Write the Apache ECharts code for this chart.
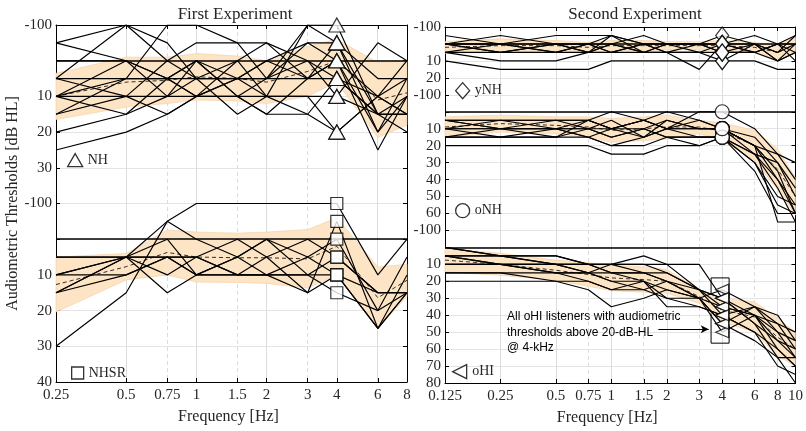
<!DOCTYPE html>
<html>
<head>
<meta charset="utf-8">
<script src="https://cdn.jsdelivr.net/npm/echarts@6.0.0/dist/echarts.min.js"></script>
<style>
  html, body { margin: 0; padding: 0; background: #fff; }
  #chart { width: 806px; height: 431px; }
</style>
</head>
<body>
<div id="chart"></div>
<script>
// frequencies [kHz] of the two experiments
const freqA = [0.25, 0.5, 0.75, 1, 1.5, 2, 3, 4, 6, 8];
const freqB = [0.125, 0.25, 0.5, 0.75, 1, 1.5, 2, 3, 4, 6, 8, 10];

// individual audiograms (dB HL), first experiment
const nhLines = [
  [-5, 0, 5, 10, 5, 0, 5, 0, 10, 5],
  [5, -10, -5, 5, 0, 10, -10, -10, 15, 15],
  [10, 5, -10, -10, -5, -5, 5, 0, 20, 10],
  [15, 10, 0, -5, -5, 5, -10, -5, 15, 20],
  [20, 15, 5, 0, 10, 5, 0, 10, -5, 0],
  [25, 20, 15, 10, 10, 15, 15, 20, 10, 15],
  [10, 10, 10, 10, 10, 10, 10, 10, 15, 15],
  [5, 5, 5, 5, 5, 5, 5, 5, 15, 10],
  [0, 0, 5, 0, 10, 15, 5, -5, 20, 5],
  [10, 15, 10, 0, 5, 5, -5, 0, 25, 10],
  [15, 5, 5, 10, 0, -5, 0, 5, 15, 15],
  [10, 0, 10, 5, 15, 10, 10, 20, 10, 15],
  [5, 10, 15, 10, 5, 10, 15, 5, 10, 0],
  [-5, -10, 0, 5, 5, 0, -5, -5, 5, 5]
];
const nhsrLines = [
  [30, 15, -5, -10, -10, -10, -10, -10, 10, 0],
  [15, 5, -5, 0, 5, 10, 15, -5, 25, 15],
  [10, 5, 15, 10, 5, 0, 5, 0, 20, 5],
  [15, 10, 5, 5, 10, 10, 5, 10, 25, 10],
  [10, 5, 5, 10, 5, 0, 10, 15, 20, 15],
  [5, 5, 10, 5, 0, 5, 15, 10, 15, 15],
  [15, 5, 0, 10, 10, 5, 0, 5, 15, 15],
  [5, 5, 5, 5, 10, 10, 10, 10, 25, 15],
  [10, 10, 5, 10, 10, 10, 10, 5, 15, 15]
];

// individual audiograms (dB HL), second experiment
const ynhLines = [
  [0, -5, 0, 0, -5, 0, 0, 0, -5, 0, 5, -5],
  [10, 15, 15, 15, 10, 10, 10, 10, 10, 10, 15, 15],
  [5, 10, 10, 5, 5, 5, 5, 15, 0, 5, 10, 0],
  [0, 0, 0, 0, 5, 0, 5, 5, 10, 0, 10, 5],
  [5, 0, 5, 5, 0, 5, 0, 0, 5, 5, 0, -5],
  [0, 5, 0, 5, 0, 5, 0, 5, 0, 5, 0, 0],
  [-5, 0, 5, 0, 0, -5, 0, 0, 0, 0, 5, 0],
  [0, 0, -5, -5, -5, 0, 0, 0, 0, -5, 0, 5],
  [5, 5, 5, 0, 5, 0, 5, 5, 5, 0, 10, 5],
  [0, 5, 0, 5, -5, 5, 5, 0, 5, 5, 0, 10]
];
const onhLines = [
  [5, 5, 5, 5, 10, 5, 10, 5, 10, 20, 35, 60],
  [10, 10, 10, 15, 20, 15, 10, 15, 15, 25, 45, 65],
  [15, 15, 15, 15, 20, 20, 15, 20, 15, 30, 50, 55],
  [20, 20, 20, 20, 25, 25, 20, 20, 15, 35, 60, 60],
  [10, 5, 5, 10, 10, 5, 0, 5, 10, 15, 30, 45],
  [5, 10, 10, 5, 0, 5, 10, 0, 0, 10, 25, 40],
  [15, 10, 10, 10, 5, 15, 5, 10, 10, 20, 40, 55],
  [10, 15, 10, 10, 15, 10, 15, 15, 15, 25, 30, 50],
  [5, 5, 10, 15, 10, 10, 5, 10, 10, 20, 25, 30],
  [10, 10, 5, 5, 10, 15, 10, 10, 10, 20, 65, 65],
  [15, 15, 15, 10, 15, 10, 15, 15, 15, 30, 55, 60],
  [5, 10, 15, 5, 10, 5, 10, 10, 10, 25, 40, 60]
];
const ohiLines = [
  [0, 5, 10, 10, 10, 10, 10, 10, 30, 45, 55, 60],
  [5, 5, 10, 15, 10, 15, 20, 30, 25, 35, 45, 50],
  [10, 10, 15, 20, 25, 25, 30, 35, 40, 35, 40, 55],
  [20, 20, 20, 25, 35, 30, 25, 30, 45, 35, 50, 65],
  [15, 15, 15, 15, 20, 20, 25, 30, 35, 40, 60, 70],
  [5, 10, 10, 10, 15, 15, 15, 25, 30, 45, 65, 80],
  [10, 10, 10, 15, 15, 20, 30, 30, 50, 40, 45, 60],
  [5, 5, 5, 10, 10, 10, 15, 25, 40, 50, 70, 75],
  [10, 10, 15, 15, 20, 25, 20, 30, 45, 55, 65, 65],
  [0, 5, 5, 10, 10, 5, 10, 25, 35, 40, 50, 55],
  [15, 15, 20, 20, 25, 20, 35, 35, 40, 50, 60, 70],
  [5, 10, 10, 10, 15, 15, 20, 25, 30, 40, 55, 65]
];

// group mean and standard deviation (shaded band)
const nhMean = [10, 6, 5.5, 4.5, 5, 6, 3, 0, 11, 9];
const nhSD = [6.5, 7, 6.5, 6.5, 6.3, 6, 7, 6, 10.5, 9];
const nhsrMean = [12.7, 7.7, 3.7, 5, 5.2, 5.2, 5.5, 2, 16.4, 11.5];
const nhsrSD = [7.7, 3.7, 6.3, 7, 6.9, 7.2, 8.2, 8, 8.6, 4.5];
const ynhMean = [2, 1, 1, 2, 1, 1, 1, 1, 1, 2, 5, 0];
const ynhSD = [3.5, 4, 3, 3, 3, 3, 2.5, 2.5, 3, 3, 4, 4.5];
const onhMean = [9, 7, 8, 9, 11, 10, 9, 9, 11.5, 20, 34, 50];
const onhSD = [6, 5, 5, 6, 7, 7, 7, 4, 5, 9, 12, 11];
const ohiMean = [7.5, 10, 13.5, 16, 18, 19, 20, 29, 37, 41, 53, 60];
const ohiSD = [7, 6.5, 6, 7, 7.5, 7.5, 7, 4, 7, 9, 11, 10];

// tick labels
const ticksA = [0.25, 0.5, 0.75, 1, 1.5, 2, 3, 4, 6, 8];
const ticksB = [0.125, 0.25, 0.5, 0.75, 1, 1.5, 2, 3, 4, 6, 8, 10];
const dashedA = [0.75, 1.5, 3];
const dashedB = [0.75, 1.5, 3, 6];

// vertical offsets of the stacked sub-panels
const offA = { NH: 0, NHSR: 50 };
const offB = { yNH: 0, oNH: 40, oHI: 120 };

const SERIF = 'Liberation Serif';
const TXT = '#262626';
const FILL = '#fce4c4';

const lg = f => Math.log2(f);
const fmtFreq = v => String(+Math.pow(2, v).toFixed(3));

function labelLeft(g) {
  const v = g < 40 ? g : g - 50;
  if (v === -10) return '-100';
  if (v === 0) return '';
  return String(v);
}
function labelRight(g) {
  const v = g < 30 ? g : (g < 110 ? g - 40 : g - 120);
  if (v === -10) return '-100';
  if (v === 0) return '';
  return String(v);
}

const series = [];

function addGroup(name, lines, mean, sd, freqs, off, gi, symbol) {
  const xs = freqs.map(lg);
  // shaded band mean +/- sd, drawn as one polygon through the axes
  series.push({
    type: 'custom', xAxisIndex: gi, yAxisIndex: gi, silent: true, z: 1,
    data: xs.map((x, i) => [x, mean[i] - sd[i] + off, mean[i] + sd[i] + off]),
    encode: { x: 0, y: [1, 2] },
    renderItem: (params, api) => {
      if (params.dataIndex !== 0) return null;
      const upper = xs.map((x, i) => api.coord([x, mean[i] - sd[i] + off]));
      const lower = xs.map((x, i) => api.coord([x, mean[i] + sd[i] + off])).reverse();
      return {
        type: 'polygon',
        shape: { points: upper.concat(lower) },
        style: { fill: FILL, stroke: '#f1cfa3', lineWidth: 0.6 }
      };
    }
  });
  lines.forEach(l => {
    series.push({
      type: 'line', xAxisIndex: gi, yAxisIndex: gi,
      data: xs.map((x, i) => [x, l[i] + off]),
      symbol: 'none', lineStyle: { color: '#000', width: 1.15 }, silent: true, z: 3
    });
  });
  // mean (dashed) + 0 dB reference line
  series.push({
    type: 'line', xAxisIndex: gi, yAxisIndex: gi,
    data: xs.map((x, i) => [x, mean[i] + off]),
    symbol: 'none', lineStyle: { color: '#000', width: 0.8, type: [4, 3] }, silent: true, z: 4,
    markLine: {
      silent: true, symbol: 'none', label: { show: false },
      lineStyle: { color: '#000', width: 1.5, type: 'solid' },
      data: [{ yAxis: off }]
    }
  });
  const k = freqs.indexOf(4);
  series.push(Object.assign({
    name: name, type: 'scatter', xAxisIndex: gi, yAxisIndex: gi,
    data: lines.map(l => [lg(4), l[k] + off]),
    itemStyle: { color: '#fff', borderColor: '#000', borderWidth: 1.2 },
    silent: true, z: 6
  }, symbol));
}

addGroup('NH', nhLines, nhMean, nhSD, freqA, offA.NH, 0, { symbol: 'triangle', symbolSize: [16, 14] });
addGroup('NHSR', nhsrLines, nhsrMean, nhsrSD, freqA, offA.NHSR, 0, { symbol: 'rect', symbolSize: 12 });
addGroup('yNH', ynhLines, ynhMean, ynhSD, freqB, offB.yNH, 1, { symbol: 'diamond', symbolSize: [13, 17] });
addGroup('oNH', onhLines, onhMean, onhSD, freqB, offB.oNH, 1, { symbol: 'circle', symbolSize: 14 });
addGroup('oHI', ohiLines, ohiMean, ohiSD, freqB, offB.oHI, 1, { symbol: 'triangle', symbolRotate: 90, symbolSize: [11, 13] });

// vertical grid lines (solid at octaves, dashed in between)
function gridSeries(gi, ticks, dashed, ymax) {
  series.push({
    type: 'line', xAxisIndex: gi, yAxisIndex: gi, data: [[lg(ticks[0]), ymax]],
    symbol: 'none', lineStyle: { opacity: 0 }, silent: true, z: 0,
    markLine: {
      silent: true, symbol: 'none', label: { show: false }, z: 0,
      data: ticks.slice(1, -1).map(t => ({
        xAxis: lg(t),
        lineStyle: { color: '#dcdcdc', width: 1, type: dashed.indexOf(t) >= 0 ? [4, 3] : 'solid' }
      }))
    }
  });
}
gridSeries(0, ticksA, dashedA, 90);
gridSeries(1, ticksB, dashedB, 200);

// annotation box + arrow around oHI listeners at 4 kHz
series.push({
  type: 'line', xAxisIndex: 1, yAxisIndex: 1, data: [[lg(4), offB.oHI + 40]],
  symbol: 'none', lineStyle: { opacity: 0 }, silent: true, z: 7,
  markArea: {
    silent: true,
    itemStyle: { color: 'rgba(0,0,0,0)', borderColor: '#000', borderWidth: 1 },
    data: [[{ coord: [lg(3.48), offB.oHI + 18] }, { coord: [lg(4.36), offB.oHI + 56.5] }]]
  },
  markLine: {
    silent: true, symbol: ['none', 'arrow'], symbolSize: [6, 8], label: { show: false },
    lineStyle: { color: '#000', width: 1, type: 'solid' },
    data: [[{ coord: [lg(1.8), offB.oHI + 48.3] }, { coord: [lg(3.38), offB.oHI + 48.3] }]]
  }
});

function xAxes(gi, ticks, min, max, namePad) {
  const common = {
    type: 'value', gridIndex: gi, min: min, max: max,
    splitLine: { show: false },
    axisLine: { show: true, onZero: false, lineStyle: { color: '#000', width: 1 } }
  };
  return [
    Object.assign({}, common, {
      position: 'bottom',
      axisTick: { inside: true, length: 4, customValues: ticks.map(lg), lineStyle: { color: '#000' } },
      axisLabel: {
        customValues: ticks.map(lg), formatter: fmtFreq, margin: 6,
        fontFamily: SERIF, fontSize: 15, color: TXT
      },
      name: 'Frequency [Hz]', nameLocation: 'middle', nameGap: 27,
      nameTextStyle: { fontFamily: SERIF, fontSize: 16, color: TXT, padding: namePad }
    }),
    Object.assign({}, common, {
      position: 'top',
      axisTick: { inside: true, length: 4, customValues: ticks.map(lg), lineStyle: { color: '#000' } },
      axisLabel: { show: false }
    })
  ];
}

const xa = xAxes(0, ticksA, lg(0.25), lg(8), [0, 6, 0, 0]);
const xb = xAxes(1, ticksB, lg(0.125), lg(10), [0, 26, 0, 0]);

function yAxis(gi, max, fmt, pos, showLabel) {
  return {
    type: 'value', gridIndex: gi, inverse: true, min: -10, max: max, interval: 10,
    position: pos,
    axisLine: { show: true, onZero: false, lineStyle: { color: '#000', width: 1 } },
    axisTick: { show: true, inside: true, length: 4, lineStyle: { color: '#000' } },
    splitLine: { show: pos === 'left', lineStyle: { color: '#e4e4e4', width: 1 } },
    axisLabel: {
      show: showLabel, formatter: fmt, margin: 4,
      fontFamily: SERIF, fontSize: 15, color: TXT
    }
  };
}

const yLeft = yAxis(0, 90, labelLeft, 'left', true);
yLeft.name = 'Audiometric Thresholds [dB HL]';
yLeft.nameLocation = 'middle';
yLeft.nameGap = 34;
yLeft.nameTextStyle = { fontFamily: SERIF, fontSize: 16, color: TXT };

function legendAt(name, icon, left, top, w, h) {
  return {
    data: [{ name: name, icon: icon }], left: left, top: top, padding: 0,
    itemWidth: w, itemHeight: h, selectedMode: false,
    itemStyle: { color: '#fff', borderColor: '#000', borderWidth: 1.3 },
    textStyle: { fontFamily: SERIF, fontSize: 14, color: TXT }
  };
}

const option = {
  animation: false,
  backgroundColor: '#fff',
  title: [
    { text: 'First Experiment', left: 230, top: 1, textAlign: 'center',
      textStyle: { fontFamily: SERIF, fontSize: 17, fontWeight: 'normal', color: TXT } },
    { text: 'Second Experiment', left: 630, top: 1, textAlign: 'center',
      textStyle: { fontFamily: SERIF, fontSize: 17, fontWeight: 'normal', color: TXT } }
  ],
  legend: [
    legendAt('NH', 'triangle', 67, 153, 15, 13),
    legendAt('NHSR', 'rect', 71, 366, 12, 12),
    legendAt('yNH', 'diamond', 455, 82, 14, 16),
    legendAt('oNH', 'circle', 455, 203, 14, 14),
    legendAt('oHI', 'path://M10,0 L10,10 L0,5 Z', 452, 364, 15, 14)
  ],
  grid: [
    { left: 56, top: 25, width: 351, height: 357 },
    { left: 445, top: 27, width: 353, height: 356 }
  ],
  xAxis: [xa[0], xb[0], xa[1], xb[1]],
  yAxis: [
    yLeft,
    yAxis(1, 200, labelRight, 'left', true),
    yAxis(0, 90, labelLeft, 'right', false),
    yAxis(1, 200, labelRight, 'right', false)
  ],
  graphic: [{
    type: 'text', left: 507, top: 309, z: 100,
    style: {
      text: 'All oHI listeners with audiometric\nthresholds above 20-dB-HL\n@ 4-kHz',
      font: '12px "Liberation Sans"', lineHeight: 15.5, fill: '#000'
    }
  }],
  series: series
};

const chart = echarts.init(document.getElementById('chart'), null, { renderer: 'canvas' });
chart.setOption(option);
</script>
</body>
</html>
